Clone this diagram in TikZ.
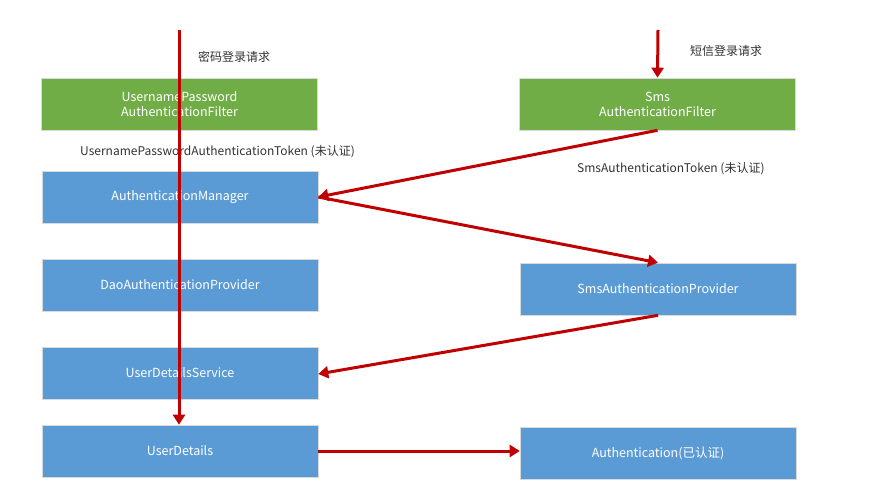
\documentclass[tikz,border=0pt]{standalone}
\usepackage{fontspec}
\setmainfont{Noto Sans CJK SC}
\usetikzlibrary{arrows.meta}
\definecolor{gbox}{HTML}{70AD47}
\definecolor{bbox}{HTML}{5B9BD5}
\definecolor{arr}{HTML}{C00000}
\begin{document}
\begin{tikzpicture}[x=1pt,y=-1pt,
  box/.style={draw=white!70!gray,line width=0.6pt,minimum width=276pt,minimum height=52pt,inner sep=0,text=white,font=\fontsize{12.5}{15}\selectfont,align=center},
  g/.style={box,fill=gbox},
  b/.style={box,fill=bbox},
  lab/.style={font=\fontsize{12}{14}\selectfont,text=black!80,inner sep=0},
  ar/.style={draw=arr,line width=3pt,-{Triangle[length=10pt,width=12pt]}}]
\useasboundingbox[fill=white] (0,0) rectangle (872,500);
\node[g] (upf) at (179.5,104) {UsernamePassword\\AuthenticationFilter};
\node[g] (sf) at (657.5,104) {Sms\\AuthenticationFilter};
\node[b] (am) at (180,197) {AuthenticationManager};
\node[b] (dao) at (180,285) {DaoAuthenticationProvider};
\node[b] (sp) at (658,289) {SmsAuthenticationProvider};
\node[b] (uds) at (180,373) {UserDetailsService};
\node[b] (ud) at (180,451) {UserDetails};
\node[b] (au) at (658,453) {Authentication(已认证)};
\coordinate (ls) at (179,30);
\coordinate (rs) at (658,30);
\node[lab,anchor=west] (l1) at (198,57) {密码登录请求};
\node[lab,anchor=west] (l2) at (690,51) {短信登录请求};
\node[lab,anchor=west] (l3) at (80,152) {UsernamePasswordAuthenticationToken (未认证)};
\node[lab,anchor=west] (l4) at (577,169) {SmsAuthenticationToken (未认证)};
\draw[ar] (ls) -- (ud.north -| ls);
\draw[ar] (rs) -- (sf.north);
\draw[ar] (sf.south) -- (am.east);
\draw[ar] (am.east) -- (sp.north);
\draw[ar] (sp.south) -- ([yshift=-1pt]uds.east);
\draw[ar] (ud.east) -- (au.west |- ud.east);
\end{tikzpicture}
\end{document}
